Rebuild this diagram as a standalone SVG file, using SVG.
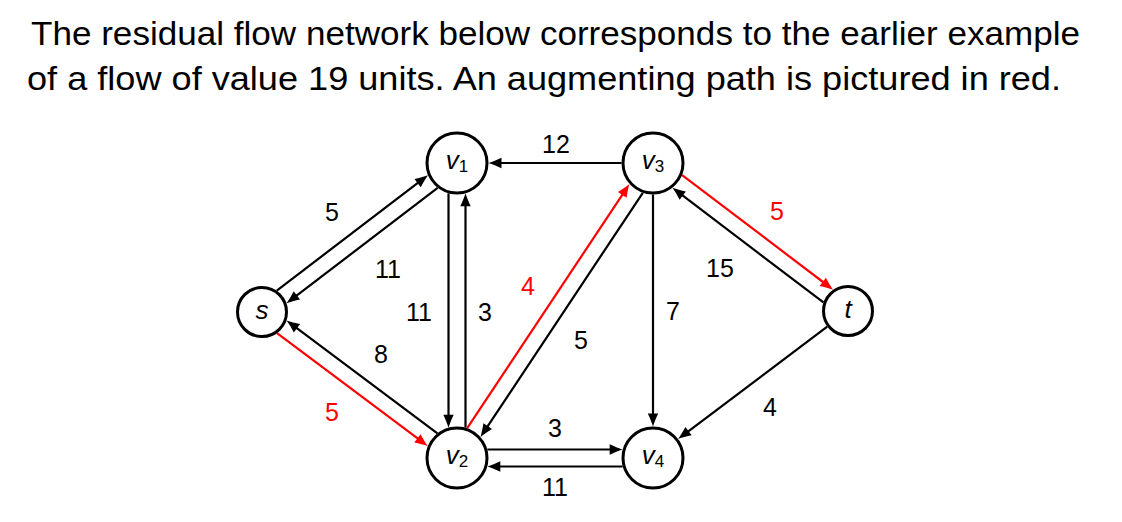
<svg xmlns="http://www.w3.org/2000/svg" width="1122" height="522" viewBox="0 0 1122 522">
<style>
text{font-family:"Liberation Sans","DejaVu Sans",sans-serif;fill:#000}
.title{font-size:34px}
.lbl{font-size:25px;text-anchor:middle}
.red{fill:#ff0000}
.node circle{fill:#fff;stroke:#000;stroke-width:3}
.nl{font-size:26px;text-anchor:middle}
.nl .v{font-style:italic}
.nl .sub{font-size:17px}
.e{stroke:#000;stroke-width:2.2;fill:none;marker-end:url(#ab)}
.er{stroke:#ff0000;stroke-width:2.2;fill:none;marker-end:url(#ar)}
</style>
<defs>
<marker id="ab" markerUnits="userSpaceOnUse" markerWidth="16" markerHeight="14" viewBox="-1 -7 16 14" refX="9" refY="0" orient="auto">
<path d="M0,-5.2 C4.5,-3.2 9,-1.1 13,0 C9,1.1 4.5,3.2 0,5.2 Z" fill="#000"/>
</marker>
<marker id="ar" markerUnits="userSpaceOnUse" markerWidth="16" markerHeight="14" viewBox="-1 -7 16 14" refX="9" refY="0" orient="auto">
<path d="M0,-5.2 C4.5,-3.2 9,-1.1 13,0 C9,1.1 4.5,3.2 0,5.2 Z" fill="#ff0000"/>
</marker>
</defs>
<rect width="1122" height="522" fill="#fff"/>
<text class="title" x="31" y="45" textLength="1049" lengthAdjust="spacingAndGlyphs">The residual flow network below corresponds to the earlier example</text>
<text class="title" x="27" y="90" textLength="1034" lengthAdjust="spacingAndGlyphs">of a flow of value 19 units. An augmenting path is pictured in red.</text>
<g id="connectors">
<line class="e" x1="276.80" y1="290.62" x2="424.75" y2="177.57"/>
<line class="e" x1="437.65" y1="187.86" x2="289.70" y2="300.91"/>
<line class="e" x1="448.5" y1="193.33" x2="448.5" y2="423.67"/>
<line class="e" x1="465.5" y1="427.67" x2="465.5" y2="197.33"/>
<line class="e" x1="621.5" y1="163" x2="492.5" y2="163"/>
<line class="er" x1="467.20" y1="428.19" x2="627.27" y2="187.28"/>
<line class="e" x1="642.80" y1="192.81" x2="482.73" y2="433.72"/>
<line class="e" x1="653" y1="194.5" x2="653" y2="422.5"/>
<line class="er" x1="682.11" y1="175.05" x2="829.94" y2="287.25"/>
<line class="e" x1="823.45" y1="302.41" x2="675.62" y2="190.21"/>
<line class="e" x1="827.24" y1="326.65" x2="681.34" y2="436.63"/>
<line class="er" x1="277.01" y1="333.23" x2="424.62" y2="443.74"/>
<line class="e" x1="437.40" y1="433.34" x2="289.79" y2="322.83"/>
<line class="e" x1="487.33" y1="449.5" x2="618.67" y2="449.5"/>
<line class="e" x1="622.67" y1="466.5" x2="491.33" y2="466.5"/>
</g>
<g id="edge-labels">
<text class="lbl" x="556" y="153">12</text>
<text class="lbl" x="332" y="221">5</text>
<text class="lbl" x="388" y="278">11</text>
<text class="lbl" x="419" y="321">11</text>
<text class="lbl" x="485" y="321">3</text>
<text class="lbl red" x="528" y="295">4</text>
<text class="lbl" x="581" y="349">5</text>
<text class="lbl" x="673" y="320">7</text>
<text class="lbl red" x="777" y="220">5</text>
<text class="lbl" x="720" y="277">15</text>
<text class="lbl" x="770" y="416">4</text>
<text class="lbl" x="381" y="363">8</text>
<text class="lbl red" x="332" y="421">5</text>
<text class="lbl" x="555" y="437">3</text>
<text class="lbl" x="555" y="496">11</text>
</g>
<g id="node-s" class="node"><circle cx="262" cy="312" r="24.5"/><text class="nl" x="262" y="319"><tspan class="v">s</tspan></text></g>
<g id="node-v1" class="node"><circle cx="457" cy="163" r="30"/><text class="nl" x="457" y="169"><tspan class="v">v</tspan><tspan class="sub" dy="3">1</tspan></text></g>
<g id="node-v2" class="node"><circle cx="457" cy="458" r="30"/><text class="nl" x="457" y="464"><tspan class="v">v</tspan><tspan class="sub" dy="3">2</tspan></text></g>
<g id="node-v3" class="node"><circle cx="653" cy="163" r="30"/><text class="nl" x="653" y="169"><tspan class="v">v</tspan><tspan class="sub" dy="3">3</tspan></text></g>
<g id="node-v4" class="node"><circle cx="653" cy="458" r="30"/><text class="nl" x="653" y="464"><tspan class="v">v</tspan><tspan class="sub" dy="3">4</tspan></text></g>
<g id="node-t" class="node"><circle cx="848" cy="311" r="24.5"/><text class="nl" x="848" y="318"><tspan class="v">t</tspan></text></g>
</svg>
